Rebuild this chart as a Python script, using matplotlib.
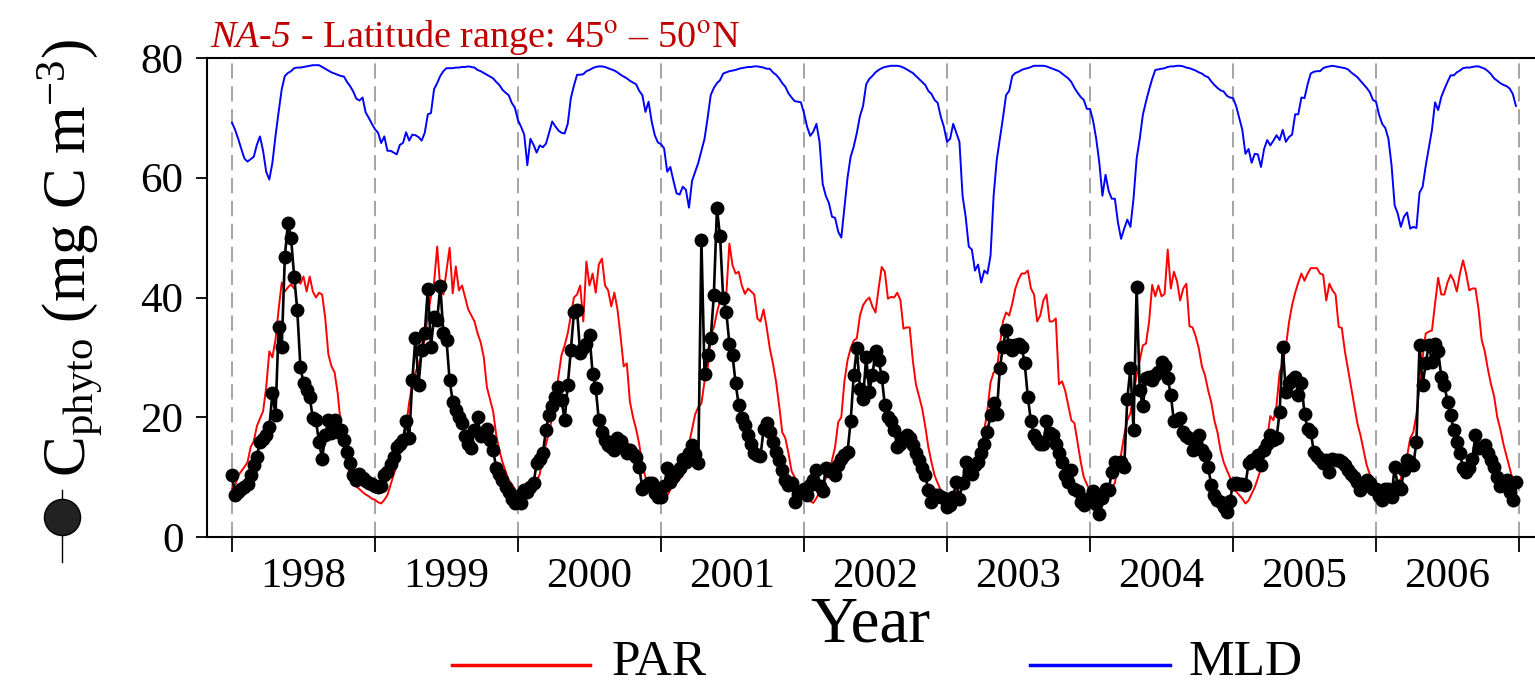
import numpy as np
import matplotlib.pyplot as plt
from matplotlib.lines import Line2D

plt.rcParams['font.family'] = ['Liberation Serif', 'DejaVu Serif']
plt.rcParams['mathtext.fontset'] = 'stix'

years = [1998, 1999, 2000, 2001, 2002, 2003, 2004, 2005, 2006]
year_labels = [str(y) for y in years]
yticks = [0, 20, 40, 60, 80]

# 8-day composites, 46 per year (mg C m-3 axis units)
chl_1998 = [10.4, 7.0, 7.5, 8.0, 8.3, 8.8, 10.3, 12.0, 13.4, 15.9, 16.3, 17.0, 18.3, 24.0, 20.4, 35.1,
            31.8, 46.8, 52.5, 49.9, 43.5, 37.9, 28.4, 25.7, 24.5, 23.4, 19.8, 19.5, 15.8, 13.1, 17.0,
            19.5, 17.3, 19.5, 17.5, 17.8, 16.2, 14.2, 12.3, 10.4, 9.6, 10.5, 9.8, 9.3, 9.0, 8.9]
chl_1999 = [8.6, 8.4, 8.6, 10.3, 10.8, 12.2, 13.4, 15.1, 15.5, 16.2, 19.3, 16.5, 26.2, 33.3, 25.4, 31.2,
            34.0, 41.5, 31.8, 36.8, 36.2, 42.0, 34.0, 32.9, 26.2, 22.6, 21.2, 20.0, 19.0, 16.8, 15.5,
            14.8, 17.9, 20.1, 16.8, 17.3, 18.1, 16.2, 14.5, 11.5, 10.6, 9.5, 8.4, 7.5, 6.4, 5.6]
chl_2000 = [6.8, 5.6, 7.8, 7.5, 8.4, 9.0, 12.3, 13.0, 14.0, 17.9, 20.4, 21.8, 23.4, 25.1, 22.9, 19.5,
            25.4, 31.2, 37.6, 37.9, 30.7, 31.5, 32.3, 33.7, 27.3, 24.9, 19.5, 17.6, 16.2, 15.4, 15.0,
            14.5, 16.5, 16.0, 14.8, 14.0, 14.5, 13.8, 13.4, 11.7, 8.1, 8.6, 9.0, 9.0, 7.3, 6.7]
chl_2001 = [6.7, 8.5, 11.5, 9.2, 10.1, 10.8, 11.5, 13.1, 12.5, 14.0, 15.4, 13.8, 12.3, 49.6, 27.3, 30.4,
            33.2, 40.4, 54.9, 50.2, 39.9, 37.6, 32.3, 30.4, 25.7, 22.0, 19.8, 18.7, 17.0, 15.6, 14.0,
            13.7, 13.5, 18.0, 19.0, 17.6, 15.9, 14.2, 12.9, 11.2, 9.5, 8.7, 9.0, 5.9, 7.2, 7.5]
chl_2002 = [8.1, 7.0, 8.7, 9.5, 11.2, 8.5, 7.6, 11.5, 11.0, 11.2, 10.3, 12.0, 13.0, 13.7, 14.2, 19.3,
            27.0, 31.5, 24.8, 23.1, 30.1, 24.3, 27.0, 31.0, 29.6, 26.8, 22.0, 20.1, 19.3, 17.9, 15.1,
            15.6, 16.5, 17.0, 16.5, 15.4, 14.0, 12.9, 11.5, 10.3, 7.8, 5.9, 7.0, 7.0, 6.7, 6.5]
chl_2003 = [5.0, 5.3, 6.7, 9.2, 6.4, 9.0, 12.6, 11.0, 10.5, 12.0, 12.6, 14.0, 15.6, 17.6, 20.4, 22.3,
            20.6, 28.2, 31.8, 34.6, 32.1, 31.2, 32.1, 32.3, 31.8, 29.0, 23.4, 19.3, 17.0, 16.2, 15.6,
            15.6, 19.3, 17.3, 17.0, 15.6, 14.0, 12.6, 10.3, 9.2, 11.2, 8.1, 7.6, 5.9, 5.3, 6.4]
chl_2004 = [6.5, 7.6, 5.5, 3.8, 6.5, 8.1, 7.8, 10.9, 12.6, 12.3, 12.6, 11.7, 23.1, 28.2, 17.9, 41.8,
            24.5, 21.8, 26.5, 26.8, 26.2, 27.0, 27.5, 29.3, 28.5, 26.5, 23.7, 19.3, 19.5, 19.8, 17.6,
            16.8, 16.5, 14.5, 15.9, 17.0, 14.5, 13.7, 11.7, 8.7, 7.0, 6.2, 5.9, 5.0, 4.2, 6.0]
chl_2005 = [8.9, 9.0, 8.8, 8.8, 8.7, 12.3, 12.9, 12.9, 13.7, 12.0, 14.5, 15.6, 17.0, 16.2, 16.5, 20.9,
            31.8, 24.3, 25.7, 26.2, 26.8, 23.7, 25.7, 20.6, 18.0, 17.6, 14.2, 13.5, 13.1, 12.3, 12.8,
            10.9, 13.1, 12.9, 12.8, 12.6, 12.0, 11.2, 10.6, 10.1, 9.2, 7.8, 8.5, 9.5, 9.0, 8.1]
chl_2006 = [8.1, 6.8, 6.2, 8.0, 8.1, 6.7, 11.7, 8.5, 8.1, 11.2, 12.9, 12.5, 12.0, 15.9, 32.1, 25.4,
            29.0, 32.1, 29.3, 32.3, 31.0, 26.8, 25.4, 22.6, 20.4, 17.9, 15.9, 14.0, 11.5, 10.9, 11.5,
            13.1, 17.0, 14.8, 15.0, 15.4, 14.0, 12.9, 11.7, 10.1, 8.5, 9.0, 9.5, 7.5, 6.2, 9.2]

par_1998 = [8.1, 8.6, 10.3, 11.0, 11.7, 12.5, 15.0, 16.0, 18.5, 19.8, 21.0, 25.0, 31.0, 30.0, 33.0, 38.0,
            42.5, 41.0, 41.7, 42.2, 41.5, 43.2, 42.3, 43.5, 41.0, 43.5, 41.0, 40.0, 40.8, 40.5, 36.5,
            30.5, 28.5, 27.5, 24.0, 18.8, 15.5, 12.5, 10.0, 9.0, 8.4, 8.0, 7.5, 7.1, 6.8, 6.4]
par_1999 = [6.2, 5.8, 5.6, 6.2, 7.0, 8.7, 10.4, 12.0, 14.5, 15.5, 18.5, 22.5, 25.5, 27.5, 28.8, 30.5,
            33.0, 37.0, 40.2, 42.5, 48.5, 41.5, 40.5, 44.5, 48.3, 40.7, 45.2, 41.2, 42.0, 40.0, 38.0,
            37.0, 36.0, 34.0, 32.5, 30.0, 25.0, 23.0, 21.0, 17.0, 14.5, 12.5, 11.0, 9.5, 8.8, 8.0]
par_2000 = [6.4, 6.5, 6.8, 7.5, 8.5, 9.0, 9.3, 10.5, 13.5, 15.5, 17.5, 20.0, 22.0, 26.8, 30.4, 32.0,
            34.0, 37.0, 40.0, 40.5, 42.0, 36.0, 46.0, 42.0, 44.0, 40.8, 45.5, 46.5, 42.0, 41.2, 38.5,
            40.8, 38.0, 33.5, 28.5, 29.0, 22.6, 20.0, 18.0, 15.5, 12.0, 10.0, 8.5, 7.0, 6.6, 6.2]
par_2001 = [6.4, 6.5, 6.9, 7.9, 8.9, 9.2, 9.6, 11.8, 13.5, 15.5, 18.0, 20.5, 21.7, 22.3, 26.0, 28.0,
            33.7, 35.0, 37.5, 39.5, 39.5, 40.5, 49.0, 45.4, 44.0, 44.3, 42.0, 40.6, 41.5, 41.0, 40.5,
            36.5, 36.0, 38.0, 35.0, 31.5, 29.0, 26.0, 22.0, 17.5, 16.5, 14.0, 11.0, 10.0, 8.0, 7.0]
par_2002 = [7.0, 6.5, 6.0, 5.7, 6.5, 7.5, 8.5, 9.8, 11.0, 12.8, 15.0, 19.2, 20.0, 26.0, 29.5, 31.5,
            32.8, 33.2, 37.0, 38.7, 39.5, 40.0, 38.5, 37.5, 41.5, 45.1, 44.3, 39.8, 40.1, 40.0, 40.8,
            39.6, 34.8, 35.0, 35.0, 29.5, 25.5, 23.5, 21.5, 18.5, 15.0, 12.5, 10.3, 9.0, 7.8, 7.2]
par_2003 = [7.0, 7.0, 7.3, 7.9, 8.7, 9.5, 8.9, 9.2, 10.4, 11.5, 11.8, 14.5, 17.8, 21.2, 25.8, 27.5,
            27.8, 32.0, 36.0, 37.5, 37.0, 39.0, 41.5, 43.0, 44.0, 44.0, 44.5, 41.5, 40.5, 36.0, 37.0,
            39.5, 40.5, 36.0, 36.0, 36.5, 25.5, 26.0, 24.5, 22.0, 19.5, 19.0, 15.8, 12.6, 10.0, 8.8]
par_2004 = [7.7, 7.2, 6.6, 6.2, 6.6, 7.1, 7.8, 8.2, 9.0, 12.0, 13.8, 17.0, 19.5, 20.7, 23.8, 27.0,
            29.5, 32.0, 32.3, 35.9, 42.1, 40.2, 42.0, 40.2, 40.6, 48.0, 41.5, 44.3, 42.7, 39.5, 41.5,
            42.3, 35.2, 35.0, 33.5, 31.5, 28.5, 27.0, 24.5, 22.5, 19.5, 17.5, 14.5, 12.5, 11.2, 10.0]
par_2005 = [8.0, 7.6, 7.0, 6.4, 5.6, 6.1, 7.2, 8.3, 9.8, 11.5, 14.0, 16.5, 20.2, 19.5, 22.0, 27.5,
            29.0, 31.7, 35.8, 38.7, 40.8, 42.5, 44.0, 42.8, 44.0, 44.9, 44.9, 44.9, 44.0, 43.8, 39.5,
            42.3, 41.2, 40.5, 35.1, 34.9, 31.0, 28.0, 25.0, 22.0, 19.0, 17.0, 14.5, 12.0, 10.5, 9.2]
par_2006 = [8.1, 7.5, 7.0, 6.5, 6.5, 6.9, 7.6, 8.6, 9.8, 11.5, 13.5, 16.5, 17.5, 20.5, 25.0, 30.0,
            34.0, 34.3, 34.5, 39.0, 43.3, 40.5, 40.5, 42.5, 43.8, 42.8, 41.0, 44.0, 46.2, 44.0, 41.2,
            41.5, 41.5, 38.0, 32.9, 31.0, 28.0, 25.5, 23.5, 20.0, 18.0, 15.5, 13.5, 11.5, 9.5, 8.0]

mld_1998 = [69.2, 68.0, 66.5, 64.8, 63.2, 62.7, 63.1, 63.5, 65.5, 66.9, 64.5, 61.0, 59.7, 62.5, 67.0, 71.0,
            74.8, 77.0, 77.5, 77.8, 78.3, 78.4, 78.4, 78.5, 78.6, 78.7, 78.8, 78.8, 78.8, 78.5, 78.2,
            77.9, 77.6, 77.4, 77.2, 77.0, 76.9, 76.0, 75.3, 74.4, 73.2, 72.9, 73.4, 70.9, 70.0, 69.0]
mld_1999 = [68.1, 67.5, 65.8, 66.9, 64.5, 64.5, 64.2, 63.9, 65.5, 65.8, 67.6, 66.2, 67.2, 67.1, 66.8, 66.2,
            67.5, 70.6, 70.8, 74.8, 75.8, 77.0, 77.8, 78.3, 78.3, 78.3, 78.4, 78.4, 78.5, 78.5, 78.6,
            78.5, 78.4, 78.0, 77.8, 77.5, 77.2, 76.9, 76.6, 76.0, 75.5, 74.7, 74.2, 73.8, 72.5, 71.7]
mld_2000 = [69.6, 68.5, 67.2, 62.1, 66.5, 65.5, 64.2, 65.4, 65.1, 65.7, 67.5, 69.4, 68.6, 67.9, 67.5, 67.4,
            69.0, 73.3, 75.4, 77.2, 77.2, 77.3, 77.8, 78.0, 78.3, 78.5, 78.6, 78.6, 78.5, 78.3, 78.1,
            77.9, 77.6, 77.2, 76.9, 76.6, 76.2, 75.9, 75.6, 74.5, 73.8, 71.0, 72.7, 69.4, 67.1, 65.9]
mld_2001 = [65.6, 64.9, 61.0, 61.8, 59.5, 57.4, 57.2, 58.5, 58.0, 55.0, 59.5, 61.0, 62.5, 64.5, 66.5, 70.0,
            73.8, 75.0, 75.8, 76.3, 77.4, 77.6, 77.8, 77.9, 78.0, 78.2, 78.3, 78.4, 78.5, 78.5, 78.6,
            78.6, 78.5, 78.4, 78.2, 78.2, 77.6, 77.2, 76.6, 75.8, 75.2, 74.1, 73.4, 72.8, 72.7, 72.6]
mld_2002 = [70.8, 68.5, 67.0, 67.7, 69.0, 66.0, 59.0, 57.0, 55.8, 53.5, 53.3, 51.0, 50.0, 55.0, 60.0, 63.5,
            65.2, 67.5, 70.3, 72.0, 75.6, 76.5, 77.0, 77.6, 78.0, 78.3, 78.5, 78.6, 78.7, 78.7, 78.7,
            78.6, 78.4, 78.1, 77.8, 77.5, 77.0, 76.5, 76.0, 75.5, 74.5, 74.0, 73.0, 72.5, 70.2, 68.5]
mld_2003 = [66.0, 66.5, 69.0, 67.5, 66.0, 57.0, 53.5, 48.5, 48.0, 44.5, 45.5, 42.5, 44.5, 44.0, 47.0, 57.0,
            63.0, 66.5, 70.0, 73.8, 74.5, 77.0, 77.5, 77.7, 78.0, 78.2, 78.3, 78.5, 78.7, 78.7, 78.7,
            78.7, 78.6, 78.4, 78.2, 78.0, 77.8, 77.4, 77.0, 76.6, 76.0, 75.0, 74.2, 73.5, 73.0, 71.5]
mld_2004 = [71.5, 69.5, 66.5, 62.5, 57.0, 60.5, 57.8, 56.5, 56.5, 52.5, 49.8, 51.5, 53.0, 51.8, 56.5, 63.2,
            66.5, 70.5, 72.7, 74.7, 76.5, 78.0, 78.1, 78.2, 78.3, 78.5, 78.6, 78.6, 78.7, 78.7, 78.6,
            78.4, 78.3, 78.1, 77.9, 77.6, 77.4, 77.0, 76.8, 76.1, 75.5, 75.0, 74.6, 74.4, 73.7, 73.4]
mld_2005 = [73.3, 72.0, 70.0, 68.0, 64.0, 64.8, 62.5, 64.0, 63.9, 61.8, 64.8, 66.3, 65.4, 66.2, 67.1, 66.3,
            68.0, 66.0, 66.8, 67.2, 70.6, 70.6, 73.4, 73.3, 75.6, 77.4, 77.7, 77.8, 77.8, 78.3, 78.5,
            78.6, 78.7, 78.6, 78.5, 78.4, 78.3, 78.1, 77.6, 77.2, 76.8, 76.2, 75.6, 75.0, 74.3, 73.0]
mld_2006 = [72.7, 70.5, 69.0, 68.3, 66.5, 62.1, 55.4, 54.0, 51.8, 53.5, 54.2, 51.5, 51.8, 51.6, 57.5, 58.5,
            62.0, 65.0, 68.0, 72.6, 71.3, 73.5, 74.8, 76.0, 77.1, 77.1, 77.6, 77.9, 78.3, 78.4, 78.4,
            78.5, 78.6, 78.6, 78.4, 78.2, 77.8, 77.3, 76.6, 76.2, 75.8, 75.5, 75.3, 74.9, 74.0, 72.0]

chl = np.concatenate([chl_1998, chl_1999, chl_2000, chl_2001, chl_2002, chl_2003, chl_2004, chl_2005, chl_2006])
par = np.concatenate([par_1998, par_1999, par_2000, par_2001, par_2002, par_2003, par_2004, par_2005, par_2006])
mld = np.concatenate([mld_1998, mld_1999, mld_2000, mld_2001, mld_2002, mld_2003, mld_2004, mld_2005, mld_2006])
t = np.concatenate([y + np.arange(46) / 46.0 for y in years])

fig = plt.figure(figsize=(15.35, 6.87), dpi=100)
ax = fig.add_axes([207 / 1535, 1 - 537 / 687, 1 - 207 / 1535, (537 - 58) / 687])

for y in years + [2007]:
    ax.axvline(y, color='#8c8c8c', lw=1.1, ls=(0, (10, 5)), zorder=1)

ax.plot(t, par, color='red', lw=1.4, zorder=2)
ax.plot(t, mld, color='blue', lw=1.4, zorder=2)
ax.plot(t, chl, color='black', lw=1.9, marker='o', ms=9, zorder=3)

ax.set_xlim(1998 - 25 / 143, 2007 + 16 / 143)
ax.set_ylim(0, 80)
ax.spines['right'].set_visible(False)
for s in ['left', 'top', 'bottom']:
    ax.spines[s].set_linewidth(1.5)

ax.set_yticks(yticks)
ax.tick_params(axis='y', labelsize=31, width=1.3, length=8, direction='out', pad=9)
ax.set_xticks(years + [2007])
ax.set_xticklabels([])
ax.tick_params(axis='x', which='major', width=1.3, length=11, direction='out')
ax.set_xticks([y + 0.5 for y in years], minor=True)
ax.set_xticklabels(year_labels, minor=True)
ax.tick_params(axis='x', which='minor', length=0, labelsize=31, pad=15)

fig.text(870 / 1535, 1 - 642 / 687, 'Year', ha='center', va='baseline', fontsize=47)

# title: italic region name followed by the latitude range
title1 = fig.text(210 / 1535, 1 - 47 / 687, 'NA-5', style='italic', color='#c00000',
                  fontsize=27.5, ha='left', va='baseline')
fig.canvas.draw()
bb = title1.get_window_extent().transformed(fig.transFigure.inverted())
fig.text(bb.x1, 1 - 47 / 687, r' - Latitude range: 45$^{\rm o}$ – 50$^{\rm o}$N', color='#c00000',
         fontsize=27.5, ha='left', va='baseline')

fig.text(0.046, 0.625, r'$\mathregular{C_{phyto}\ (mg\ C\ m^{-3})}$', rotation=90,
         ha='center', va='center', fontsize=44)
fig.add_artist(Line2D([62 / 1535, 62 / 1535], [1 - 490 / 687, 1 - 562 / 687],
                      color='black', lw=1.0, transform=fig.transFigure))
fig.add_artist(Line2D([62 / 1535], [1 - 517 / 687], marker='o', ms=26, color='#222222',
                      markeredgecolor='black', ls='none', transform=fig.transFigure))

# legend drawn by hand below the axis label
fig.add_artist(Line2D([452 / 1535, 590 / 1535], [1 - 665 / 687] * 2, color='red', lw=2.5,
                      transform=fig.transFigure))
fig.text(612 / 1535, 1 - 675 / 687, 'PAR', fontsize=37, ha='left', va='baseline')
fig.add_artist(Line2D([1030 / 1535, 1170 / 1535], [1 - 665 / 687] * 2, color='blue', lw=2.5,
                      transform=fig.transFigure))
fig.text(1188 / 1535, 1 - 675 / 687, 'MLD', fontsize=37, ha='left', va='baseline')

fig.savefig('out.png', dpi=100)
